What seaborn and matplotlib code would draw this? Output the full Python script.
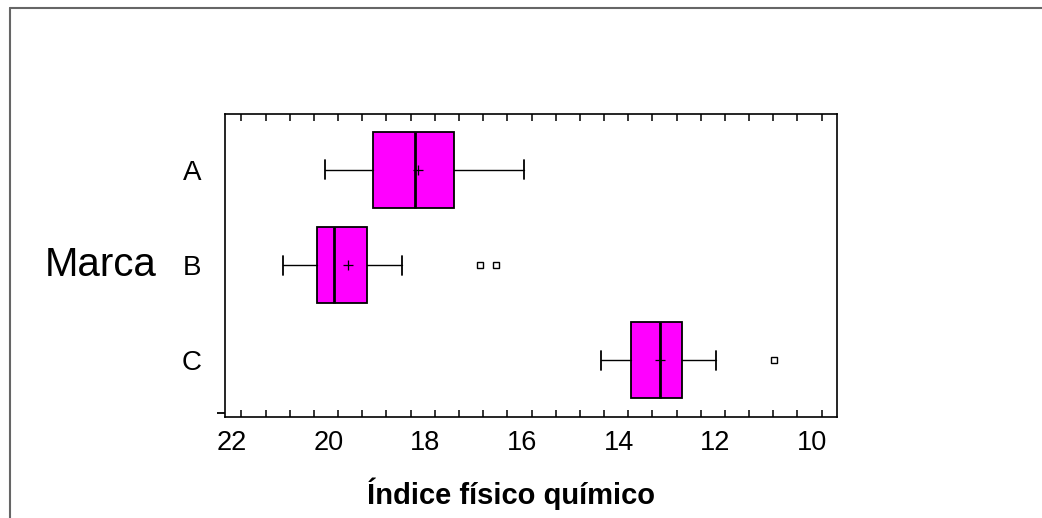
import matplotlib
matplotlib.use("Agg")
import matplotlib.pyplot as plt
from matplotlib.lines import Line2D
from matplotlib.ticker import FixedLocator
import numpy as np
import seaborn as sns

# resumen de cinco números por marca
marcas = ["A", "B", "C"]
bigote_inf = [15.96, 18.48, 11.99]
q1 = [17.41, 19.21, 12.69]
medianas = [18.21, 19.88, 13.14]
q3 = [19.07, 20.24, 13.75]
bigote_sup = [20.07, 20.94, 14.37]
medias = [18.15, 19.60, 13.15]
atipicos = [[], [16.86, 16.54], [10.78]]

xticks = [22, 20, 18, 16, 14, 12, 10]

sns.set_theme(style="ticks")
plt.rcParams['font.family'] = ['Liberation Sans', 'DejaVu Sans']
plt.rcParams['text.color'] = 'black'
plt.rcParams['axes.labelcolor'] = 'black'
plt.rcParams['xtick.color'] = 'black'
plt.rcParams['ytick.color'] = 'black'

fig = plt.figure(figsize=(10.42, 5.18), dpi=100)
ax = fig.add_axes([0.2159, 0.1944, 0.587, 0.586])

stats = []
for i, m in enumerate(marcas):
    stats.append({
        "label": m,
        "whislo": bigote_inf[i],
        "q1": q1[i],
        "med": medianas[i],
        "q3": q3[i],
        "whishi": bigote_sup[i],
        "mean": medias[i],
        "fliers": np.array(atipicos[i]),
    })

ax.bxp(stats, positions=range(len(marcas)), orientation="horizontal",
       widths=0.8, capwidths=0.2, patch_artist=True, showmeans=True,
       boxprops=dict(facecolor="#ff00ff", edgecolor="black", linewidth=1.3),
       medianprops=dict(color="black", linewidth=2),
       whiskerprops=dict(color="black", linewidth=1),
       capprops=dict(color="black", linewidth=1.3),
       meanprops=dict(marker="+", markeredgecolor="black", markersize=7, markeredgewidth=0.9),
       flierprops=dict(marker="s", markerfacecolor="white", markeredgecolor="black",
                       markersize=5, markeredgewidth=1))

ax.set_xlim(22.14, 9.49)
ax.set_ylim(2.6, -0.59)

ax.set_xticks(xticks)
ax.set_xticklabels([str(t) for t in xticks], fontsize=19.5)
ax.xaxis.set_minor_locator(FixedLocator(np.arange(21.8, 9.6, -0.5)))
ax.tick_params(axis="x", which="major", length=0, pad=9)
ax.tick_params(axis="x", which="minor", direction="in", length=5, width=1.1,
               top=True, bottom=True, color="black")

ax.set_yticks(range(len(marcas)))
ax.set_yticklabels(marcas, fontsize=20, va="center_baseline")
ax.yaxis.set_minor_locator(FixedLocator([2.55]))
ax.tick_params(axis="y", which="major", length=0, pad=17)
ax.tick_params(axis="y", which="minor", direction="out", length=6, width=1.3, color="black")

for s in ax.spines.values():
    s.set_linewidth(1.2)
    s.set_color("black")

ax.set_ylabel("Marca", rotation=0, fontsize=29, ha="center", va="center")
ax.yaxis.set_label_coords(-0.203, 0.5016)
ax.set_xlabel("Índice físico químico", fontsize=21, fontweight="bold", va="center")
ax.xaxis.set_label_coords(0.4676, -0.2526)

# marco exterior
fig.add_artist(Line2D([0.0096, 1.0], [0.9846, 0.9846], transform=fig.transFigure,
                      color="#666666", linewidth=1.5))
fig.add_artist(Line2D([0.0096, 0.0096], [0.0, 0.9846], transform=fig.transFigure,
                      color="#666666", linewidth=1.5))

fig.savefig("out.png", dpi=100)
